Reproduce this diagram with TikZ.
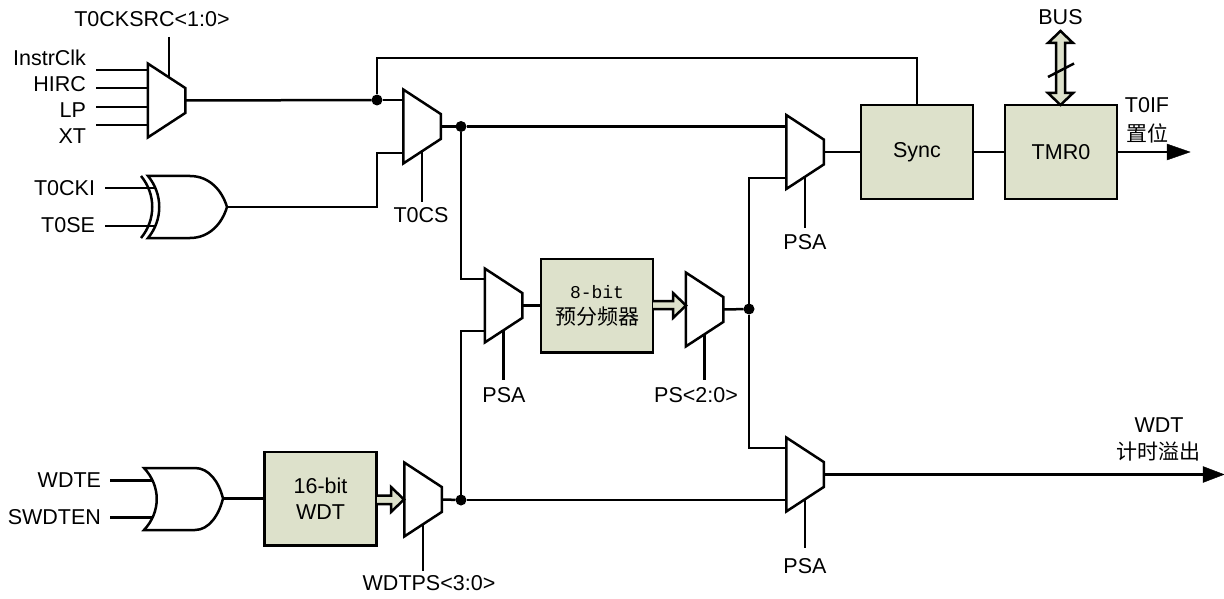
\documentclass[tikz,border=0pt]{standalone}
\usepackage{fontspec}
\setmainfont{Liberation Sans}
\setmonofont{Liberation Mono}
\newfontfamily\cjk{Noto Sans CJK SC}
\usetikzlibrary{calc}
\definecolor{boxfill}{HTML}{DDE1CB}
\tikzset{
  wire/.style={line width=2.5pt,line cap=butt,line join=miter},
  muxshape/.style={draw,fill=white,line width=2.5pt,line join=miter},
  muxnode/.style={rectangle,minimum width=37.5pt,minimum height=74pt,inner sep=0pt,outer sep=0pt},
  block/.style={draw,fill=boxfill,line width=2.5pt,minimum width=112pt,minimum height=93.5pt,inner sep=0pt,outer sep=0pt,align=center,font=\fontsize{21.5}{26}\selectfont},
  lab/.style={inner sep=0pt,outer sep=0pt,font=\fontsize{21.5}{24}\selectfont,align=center},
  cjklab/.style={inner sep=0pt,outer sep=0pt,font=\fontsize{21}{24}\selectfont\cjk,align=center},
  dot/.style={circle,fill=black,minimum size=11pt,inner sep=0pt,outer sep=0pt},
  gate/.style={draw,fill=white,line width=2.5pt,line join=miter},
  bigarrow/.style={draw,fill=boxfill,line width=2.5pt,line join=miter}
}
\newcommand{\muxat}[3]{%
  \draw[muxshape] (#2-18.75,#3-37) -- (#2+18.75,#3-12.5) -- (#2+18.75,#3+12.5) -- (#2-18.75,#3+37) -- cycle;
  \node[muxnode] (#1) at (#2,#3) {};
}
\begin{document}
\begin{tikzpicture}[x=1pt,y=-1pt]
\useasboundingbox (0,0) rectangle (1224,599);
% muxes
\muxat{ma}{166.5}{100.5}
\muxat{mb}{422}{126.5}
\muxat{mc}{805}{152}
\muxat{md}{503.5}{305.5}
\muxat{me}{704.5}{309.5}
\muxat{mf}{423}{499.5}
\muxat{mg}{805}{474.5}
% blocks
\node[block] (pre) at (597,305.5) {{\fontsize{18}{24}\selectfont\ttfamily 8-bit}\\{\fontsize{21}{24}\selectfont\cjk 预分频器}};
\node[block] (sync) at (917,152) {Sync};
\node[block] (tmr) at (1061,152) {TMR0};
\node[block] (wdt) at (320.5,498.5) {16-bit\\WDT};
% gates
\draw[gate] (148,176) -- (190,176) .. controls (209,176) and (222,190) .. (227,207)
  .. controls (222,224) and (209,238) .. (190,238) -- (148,238)
  .. controls (163,220) and (163,194) .. (148,176) -- cycle;
\draw[line width=2.5pt] (141,176) .. controls (156,194) and (156,220) .. (141,238);
\coordinate (xo) at (227,207);
\coordinate (xa) at (155,188);
\coordinate (xb) at (155,226);
\draw[gate] (144,468) -- (195,468) .. controls (209,468) and (219,482) .. (223,498.5)
  .. controls (219,515) and (209,530) .. (195,530) -- (144,530)
  .. controls (161,512) and (161,486) .. (144,468) -- cycle;
\coordinate (oo) at (223,498.5);
\coordinate (oa) at (153,480.5);
\coordinate (ob) at (153,517.5);
% dots
\node[dot] (d1) at (377,100) {};
\node[dot] (d2) at (461,126.5) {};
\node[dot] (d3) at (749,309) {};
\node[dot] (d4) at (461,500) {};
% labels
\node[lab] (t1) at (152,19) {T0CKSRC<1:0>};
\node[lab,anchor=east] (t2) at (86,58) {InstrClk};
\node[lab,anchor=east] (t3) at (86,84) {HIRC};
\node[lab,anchor=east] (t4) at (86,110) {LP};
\node[lab,anchor=east] (t5) at (86,136) {XT};
\node[lab,anchor=east] (t6) at (95,188) {T0CKI};
\node[lab,anchor=east] (t7) at (95,225) {T0SE};
\node[lab] (t8) at (421,215) {T0CS};
\node[lab] (t9) at (504,395) {PSA};
\node[lab] (t10) at (696,395) {PS<2:0>};
\node[lab] (t11) at (805,242) {PSA};
\node[lab] (t12) at (1060.5,17) {BUS};
\node[lab] (t13) at (1147,105) {T0IF};
\node[cjklab] (t14) at (1147,133) {置位};
\node[lab,anchor=east] (t15) at (101,480) {WDTE};
\node[lab,anchor=east] (t16) at (101,517) {SWDTEN};
\node[lab] (t17) at (429,583) {WDTPS<3:0>};
\node[lab] (t18) at (805,566) {PSA};
\node[lab] (t19) at (1159,425) {WDT};
\node[cjklab] (t20) at (1158,452) {计时溢出};
% free ends
\coordinate (ia) at (96,70);\coordinate (ib) at (96,88);\coordinate (ic) at (96,107);\coordinate (id) at (96,125);
\coordinate (ca) at (169,37);
\coordinate (ta) at (105,188);\coordinate (tb) at (105,226);
\coordinate (wa) at (110,480.5);\coordinate (wb) at (110,517.5);
% wires
\draw[wire] (ia) -- (ia -| ma.west);
\draw[wire] (ib) -- (ib -| ma.west);
\draw[wire] (ic) -- (ic -| ma.west);
\draw[wire] (id) -- (id -| ma.west);
\draw[wire] (ca) -- (169,77);
\draw[wire] (ma.east) -- (d1);
\draw[wire] (d1) -- (d1 -| mb.west);
\draw[wire] (d1) |- (917,58) -- (sync.north);
\draw[wire] (xo) -| (377,153) -- (403.25,153);
\draw[wire] (ta) -- (xa);
\draw[wire] (tb) -- (xb);
\draw[wire] (422,151) -- (422,202);
\draw[wire] (mb.east) -- (d2);
\draw[wire] (d2) -- (d2 -| mc.west);
\draw[wire] (d2) |- (484.75,279);
\draw[wire] (d4) |- (484.75,331);
\draw[wire] (d4) -- (d4 -| mg.west);
\draw[wire] (mf.east) -- (d4);
\draw[wire] (503.5,330) -- (503.5,380);
\draw[wire] (md.east) -- (pre.west);
\draw[wire] (704.5,334) -- (704.5,380);
\draw[wire] (me.east) -- (d3);
\draw[wire] (d3) |- (786.25,178);
\draw[wire] (d3) |- (786.25,448);
\draw[wire] (mc.east) -- (sync.west);
\draw[wire] (sync.east) -- (tmr.west);
\draw[wire] (805,177) -- (805,228);
\draw[wire] (805,499) -- (805,548);
\draw[wire] (tmr.east) -- (1168,152);
\draw[fill=black] (1167,144) -- (1190,152) -- (1167,160) -- cycle;
\draw[wire] (mg.east) -- (1204,474.5);
\draw[fill=black] (1203,466.5) -- (1224,474.5) -- (1203,482.5) -- cycle;
\draw[wire] (wa) -- (oa);
\draw[wire] (wb) -- (ob);
\draw[wire] (oo) -- (wdt.west);
\draw[wire] (423,524.5) -- (423,571);
% hollow arrows
\draw[bigarrow] (653,301) -- (673,301) -- (673,293) -- (686,305.5) -- (673,318) -- (673,309) -- (653,309);
\draw[bigarrow] (377,495.5) -- (391,495.5) -- (391,487) -- (404,499.5) -- (391,512) -- (391,504) -- (377,504);
\draw[bigarrow] (1060.5,31) -- (1073,43) -- (1065,43) -- (1065,93) -- (1073,93) -- (1060.5,105) -- (1048,93) -- (1056,93) -- (1056,43) -- (1048,43) -- cycle;
\draw[line width=2.5pt] (1048,77) -- (1074,63.5);
\end{tikzpicture}
\end{document}
